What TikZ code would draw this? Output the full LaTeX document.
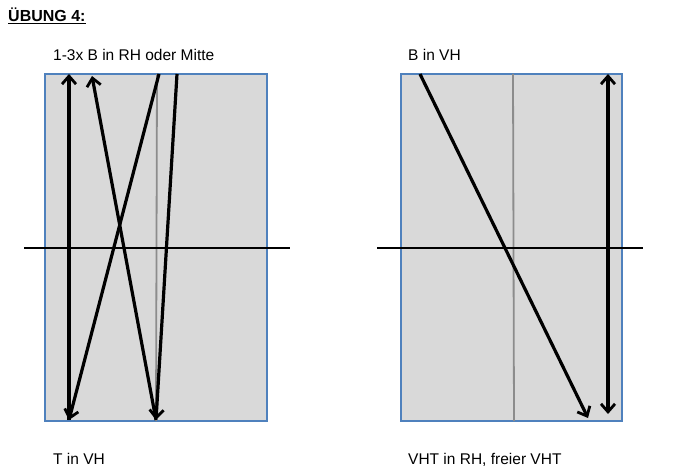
\documentclass[tikz,border=0pt]{standalone}
\usepackage{fontspec}
\setmainfont{Liberation Sans}
\usetikzlibrary{arrows.meta}
\definecolor{rahmenblau}{RGB}{79,129,189}
\tikzset{spitze/.tip={Straight Barb[length=8pt,width=14pt,line width=2.8pt]}}
\begin{document}
\begin{tikzpicture}[x=1pt,y=-1pt,
    feld/.style={draw=rahmenblau, line width=1.6pt, fill=black!15},
    mitte/.style={draw=black!45, line width=1.8pt},
    achse/.style={draw=black, line width=1.6pt},
    pfeil/.style={line width=3.2pt, -spitze},
    beschriftung/.style={anchor=base west, inner sep=0pt, font=\fontsize{15.5}{18}\selectfont}]
    \useasboundingbox (0,0) rectangle (685,470);
    % Überschrift
    \node[anchor=base west, inner sep=0pt, font=\bfseries\fontsize{16}{18}\selectfont] (titel) at (8,22) {\underline{ÜBUNG 4:}};
    % linkes Feld
    \fill[feld] (45,74) rectangle (267,421);
    \draw[mitte] (157,74) -- (156,421);
    \draw[achse] (24,248) -- (290,248);
    \node[beschriftung] (oben1) at (53,61) {1-3x B in RH oder Mitte};
    \node[beschriftung] (unten1) at (53,464) {T in VH};
    % Wege links
    \coordinate (a1) at (69,420);
    \coordinate (a2) at (69,74);
    \coordinate (a3) at (159,74);
    \coordinate (a4) at (156,420);
    \coordinate (a5) at (92,76);
    \coordinate (a6) at (177,74);
    \draw[pfeil] (a1) -- (a2);
    \draw[pfeil] (a3) -- (a1);
    \draw[pfeil] (a4) -- (a5);
    \draw[pfeil] (a6) -- (a4);
    % rechtes Feld
    \fill[feld] (401,74) rectangle (622,421);
    \draw[mitte] (513,74) -- (514,421);
    \draw[achse] (377,248) -- (643,248);
    \node[beschriftung] (oben2) at (408,61) {B in VH};
    \node[beschriftung] (unten2) at (408,464) {VHT in RH, freier VHT};
    % Wege rechts
    \coordinate (b1) at (420,74);
    \coordinate (b2) at (588,418);
    \coordinate (b3) at (608,74);
    \coordinate (b4) at (608,414);
    \draw[pfeil] (b1) -- (b2);
    \draw[pfeil, spitze-spitze] (b3) -- (b4);
\end{tikzpicture}
\end{document}
